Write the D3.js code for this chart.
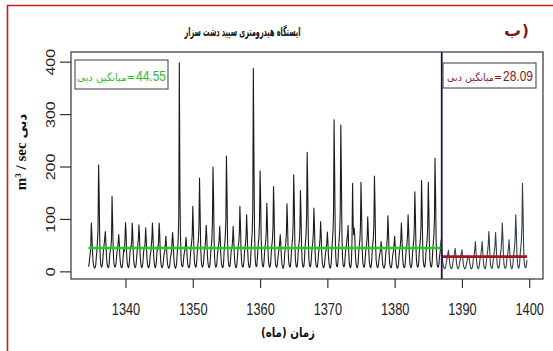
<!DOCTYPE html>
<html>
<head>
<meta charset="utf-8">
<script src="https://cdn.jsdelivr.net/npm/d3@7"></script>
<style>
  html, body { margin: 0; padding: 0; background: #fff; }
  svg { display: block; }
</style>
</head>
<body>
<svg id="chart" width="553" height="351"></svg>
<script>
// Monthly discharge (m3/s), one row per water year (Mehr .. Shahrivar).
// Row label = the year that contains the spring months of that water year.
const firstWaterYear = 1335;
const monthlyFlow = [
  [9,14,24,33,46,92,71,40,21,12,8,6],        // 1335
  [8,13,28,39,58,81,203,150,62,25,12,8],     // 1336
  [9,15,30,44,52,63,76,55,31,16,10,7],       // 1337
  [8,16,34,40,47,60,143,98,44,19,11,8],      // 1338
  [9,14,27,38,45,56,70,52,28,15,9,7],        // 1339
  [8,15,31,42,38,61,93,74,35,17,10,7],       // 1340
  [9,18,36,47,44,58,92,70,33,16,10,7],       // 1341
  [8,14,29,41,50,64,89,66,34,17,10,7],       // 1342
  [9,16,33,45,43,57,83,61,30,15,9,7],        // 1343
  [8,15,30,36,48,62,92,69,37,18,10,7],       // 1344
  [9,17,35,46,42,60,92,71,36,17,10,7],       // 1345
  [8,13,26,34,39,51,67,49,27,14,9,6],        // 1346
  [7,12,24,31,37,56,74,58,30,15,9,6],        // 1347
  [8,14,30,45,62,104,398,160,70,28,13,9],    // 1348
  [9,15,28,36,41,50,65,47,26,14,9,7],        // 1349
  [8,16,34,45,56,70,124,88,40,18,11,8],      // 1350
  [9,18,38,50,62,85,178,120,52,22,12,8],     // 1351
  [9,15,31,43,49,63,88,66,33,16,10,7],       // 1352
  [8,17,36,48,60,92,199,146,58,24,12,8],     // 1353
  [9,16,33,42,50,60,86,63,32,16,10,7],       // 1354
  [8,18,40,52,68,98,220,155,60,25,13,9],     // 1355
  [9,16,32,44,47,59,86,64,33,16,10,7],       // 1356
  [8,17,35,46,55,72,124,90,42,19,11,8],      // 1357
  [9,16,33,44,52,68,108,79,38,18,10,7],      // 1358
  [8,18,42,58,75,120,387,230,85,30,14,9],    // 1359
  [10,20,41,55,66,95,192,140,60,25,13,9],    // 1360
  [9,18,37,48,57,76,130,96,44,20,11,8],      // 1361
  [9,17,36,50,60,82,162,118,50,21,12,8],     // 1362
  [8,14,28,37,44,55,70,52,28,14,9,6],        // 1363
  [8,16,34,46,55,74,129,92,42,19,11,8],      // 1364
  [9,19,40,53,64,90,184,132,56,23,12,8],     // 1365
  [9,17,37,49,58,80,154,110,48,21,11,8],     // 1366
  [9,19,42,56,70,104,227,160,65,26,13,9],    // 1367
  [9,17,35,47,55,72,121,88,41,19,11,8],      // 1368
  [8,15,31,42,49,63,95,70,34,17,10,7],       // 1369
  [8,13,27,36,43,54,75,56,29,15,9,6],        // 1370
  [8,18,42,58,74,112,289,190,75,28,13,9],    // 1371
  [9,19,44,60,76,115,279,185,72,27,13,9],    // 1372
  [9,16,32,43,50,62,70,88,40,18,10,7],       // 1373
  [9,20,60,168,92,70,82,64,33,16,10,7],      // 1374
  [8,17,37,50,60,84,170,118,50,21,11,8],     // 1375
  [8,16,33,44,51,66,104,76,36,17,10,7],      // 1376
  [9,18,39,52,63,90,182,128,54,22,12,8],     // 1377
  [7,12,22,30,36,45,57,42,23,12,8,6],        // 1378
  [8,15,32,43,50,66,106,77,37,17,10,7],      // 1379
  [7,13,25,34,40,52,67,50,27,13,8,6],        // 1380
  [8,15,30,41,48,62,92,68,33,16,9,7],        // 1381
  [8,16,33,44,52,69,108,79,38,17,10,7],      // 1382
  [9,17,36,48,58,80,152,108,47,20,11,8],     // 1383
  [9,18,38,51,62,86,173,122,52,21,12,8],     // 1384
  [9,18,38,50,61,86,170,120,51,21,12,8],     // 1385
  [9,19,41,55,68,100,216,150,60,24,12,8],    // 1386
  [8,14,28,36,45,60,38,26,16,10,7,5],        // 1387
  [6,9,16,22,28,34,40,30,18,10,7,5],         // 1388
  [6,10,18,25,30,36,44,33,20,11,7,5],        // 1389
  [6,10,17,23,29,35,41,31,19,10,7,5],        // 1390
  [5,8,14,19,24,28,30,25,16,9,6,5],          // 1391
  [6,10,20,27,33,42,57,40,22,12,7,5],        // 1392
  [6,11,21,28,34,43,57,41,23,12,7,5],        // 1393
  [6,12,24,32,40,52,76,55,28,13,8,6],        // 1394
  [6,12,23,31,39,50,74,54,27,13,8,6],        // 1395
  [7,13,26,35,44,60,92,66,31,14,8,6],        // 1396
  [6,11,21,29,35,45,60,44,24,12,7,5],        // 1397
  [7,14,29,38,48,66,108,78,36,16,9,6],       // 1398
  [8,16,34,45,57,85,168,115,48,19,10,7],     // 1399
  [7,12,22]                                  // 1400 (Mehr .. Azar)
];

const breakYear = 1387;
const meanBefore = 44.55;
const meanAfter = 28.09;

const xTicks = [1340, 1350, 1360, 1370, 1380, 1390, 1400];
const yTicks = [0, 100, 200, 300, 400];

const titleText = "ایستگاه هیدرومتری سپید دشت سزار";
const panelLetter = "ب";
const xTitle = "زمان (ماه)";
const meanWord = "میانگین دبی=";

// ---------------------------------------------------------------
const svg = d3.select("#chart");
const W = 553, H = 351;
const plot = { left: 71, right: 543, top: 52, bottom: 279 };

// flatten the table into (time, value) points; Farvardin of year Y sits at t = Y
const series = [];
monthlyFlow.forEach((row, i) => {
  row.forEach((v, m) => {
    series.push({ t: firstWaterYear + i - 0.5 + m / 12, v });
  });
});
const tStart = series[0].t;
const tEnd = series[series.length - 1].t;

const x = d3.scaleLinear().domain([1331.9, 1402.05]).range([plot.left, plot.right]);
const y = d3.scaleLinear().domain([-14.6, 418.5]).range([plot.bottom, plot.top]);

// squeeze a text element horizontally to a target width around its anchor
function fit(sel, px, py, width, extra) {
  const nat = sel.node().getComputedTextLength();
  const s = width / nat;
  sel.attr("x", 0).attr("y", 0)
     .attr("transform", `translate(${px},${py}) scale(${s},1)` + (extra || ""));
  return s;
}

// outer red frame
svg.append("path")
  .attr("d", `M7.5,${H} L7.5,5.5 L${W},5.5`)
  .attr("fill", "none").attr("stroke", "#d0191c").attr("stroke-width", 1.6);

// title
const title = svg.append("text")
  .attr("direction", "rtl")
  .attr("text-anchor", "middle")
  .attr("font-family", "DejaVu Sans")
  .attr("font-weight", "bold")
  .attr("font-size", 12.5)
  .attr("fill", "#111")
  .text(titleText);
fit(title, 242.5, 36, 116);

// panel tag: letter followed by a closing bracket on its right
svg.append("text")
  .attr("x", 521).attr("y", 36)
  .attr("text-anchor", "end")
  .attr("font-family", "DejaVu Sans")
  .attr("font-weight", "bold")
  .attr("font-size", 17)
  .attr("fill", "#7d1d1f")
  .text(panelLetter);
svg.append("text")
  .attr("x", 522).attr("y", 36)
  .attr("text-anchor", "start")
  .attr("font-family", "DejaVu Sans")
  .attr("font-weight", "bold")
  .attr("font-size", 15)
  .attr("fill", "#7d1d1f")
  .text(")");

// clip for the data
svg.append("clipPath").attr("id", "plotClip")
  .append("rect")
  .attr("x", plot.left).attr("y", plot.top)
  .attr("width", plot.right - plot.left).attr("height", plot.bottom - plot.top);

const line = d3.line().x(d => x(d.t)).y(d => y(d.v));
const g = svg.append("g").attr("clip-path", "url(#plotClip)");

g.append("path")
  .datum(series.filter(d => d.t <= breakYear + 1e-6))
  .attr("d", line)
  .attr("fill", "none").attr("stroke", "#1c1c1c").attr("stroke-width", 1.1)
  .attr("stroke-linejoin", "round");

g.append("path")
  .datum(series.filter(d => d.t >= breakYear - 1e-6))
  .attr("d", line)
  .attr("fill", "none").attr("stroke", "#33404f").attr("stroke-width", 1.1)
  .attr("stroke-linejoin", "round");

// period means
g.append("line")
  .attr("x1", x(tStart)).attr("x2", x(breakYear))
  .attr("y1", y(meanBefore)).attr("y2", y(meanBefore))
  .attr("stroke", "#22cc22").attr("stroke-width", 2.6);
g.append("line")
  .attr("x1", x(breakYear)).attr("x2", x(tEnd))
  .attr("y1", y(meanAfter)).attr("y2", y(meanAfter))
  .attr("stroke", "#a51616").attr("stroke-width", 2.8);

// break line
g.append("line")
  .attr("x1", x(breakYear)).attr("x2", x(breakYear))
  .attr("y1", plot.top).attr("y2", plot.bottom)
  .attr("stroke", "#15155a").attr("stroke-width", 1.8);

// plot frame
svg.append("rect")
  .attr("x", plot.left).attr("y", plot.top)
  .attr("width", plot.right - plot.left).attr("height", plot.bottom - plot.top)
  .attr("fill", "none").attr("stroke", "#333").attr("stroke-width", 1.2);

// x axis
const xAxis = svg.append("g")
  .attr("transform", `translate(0,${plot.bottom})`)
  .call(d3.axisBottom(x).tickValues(xTicks).tickSize(9).tickFormat(d3.format("d")));
xAxis.select(".domain").remove();
xAxis.selectAll(".tick line").attr("stroke", "#333").attr("stroke-width", 1.2);
xAxis.selectAll(".tick text")
  .attr("font-family", "Liberation Sans, Arial, sans-serif")
  .attr("font-size", 16).attr("fill", "#222")
  .attr("dy", null)
  .attr("y", 0)
  .attr("transform", "translate(0,35.5) scale(0.8,1)");

// y axis
const yAxis = svg.append("g")
  .attr("transform", `translate(${plot.left},0)`)
  .call(d3.axisLeft(y).tickValues(yTicks).tickSize(11).tickFormat(d3.format("d")));
yAxis.select(".domain").remove();
yAxis.selectAll(".tick line").attr("stroke", "#333").attr("stroke-width", 1.2);
yAxis.selectAll(".tick text")
  .attr("font-family", "Liberation Sans, Arial, sans-serif")
  .attr("font-size", 16).attr("fill", "#222")
  .attr("text-anchor", "middle")
  .attr("x", 0).attr("y", 0).attr("dy", null)
  .attr("transform", "translate(-16,0) scale(0.8,1) rotate(-90)");

// axis titles
const xt = svg.append("text")
  .attr("direction", "rtl")
  .attr("text-anchor", "middle")
  .attr("font-family", "DejaVu Sans")
  .attr("font-weight", "bold")
  .attr("font-size", 13)
  .attr("fill", "#111")
  .text(xTitle);
fit(xt, 288, 337, 54);

const yt = svg.append("text")
  .attr("text-anchor", "middle")
  .attr("font-weight", "bold")
  .attr("fill", "#111")
  .attr("transform", "translate(26,152) rotate(-90)");
yt.append("tspan").attr("font-family", "Liberation Serif").attr("font-size", 15).text("m");
yt.append("tspan").attr("font-family", "Liberation Serif").attr("font-size", 9).attr("dy", -5).text("3");
yt.append("tspan").attr("font-family", "Liberation Serif").attr("font-size", 15).attr("dy", 5).text(" / sec ");
yt.append("tspan").attr("font-family", "DejaVu Sans").attr("font-size", 13).text("دبی");

// mean boxes
function meanBox(x0, x1, y0, y1, value, color, numRight, numWidth, wordLeft, baseline) {
  svg.append("rect")
    .attr("x", x0).attr("y", y0).attr("width", x1 - x0).attr("height", y1 - y0)
    .attr("fill", "#fff").attr("stroke", "#3a3a3a").attr("stroke-width", 1);
  const num = svg.append("text")
    .attr("text-anchor", "end")
    .attr("font-family", "Liberation Sans, Arial, sans-serif")
    .attr("font-size", 15).attr("fill", color)
    .text(d3.format(".2f")(value));
  fit(num, numRight, baseline, numWidth);
  const word = svg.append("text")
    .attr("text-anchor", "end")
    .attr("font-family", "DejaVu Sans")
    .attr("font-size", 10).attr("fill", color)
    .text(meanWord);
  const right = numRight - numWidth - 1;
  fit(word, right, baseline, right - wordLeft);
}
meanBox(75, 168, 60, 89, meanBefore, "#33b833", 166, 30, 77, 80.5);
meanBox(443, 536, 63, 88, meanAfter, "#8a1c1c", 533, 30, 447, 81);
</script>
</body>
</html>
